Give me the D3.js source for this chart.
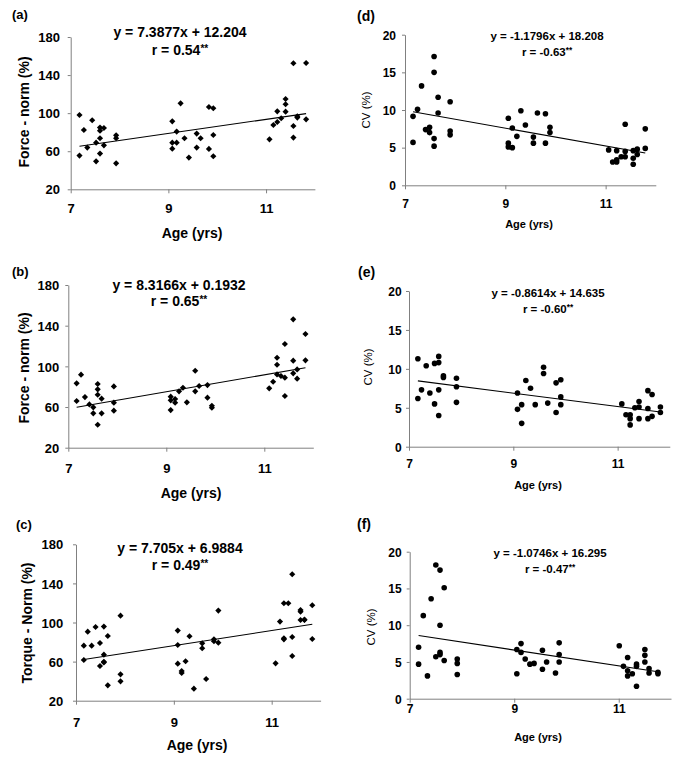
<!DOCTYPE html>
<html><head><meta charset="utf-8">
<script src="https://cdn.jsdelivr.net/npm/d3@7"></script>
<style>
body{margin:0;background:#fff;}
svg{display:block;font-family:"Liberation Sans",Arial,sans-serif;}
</style></head>
<body><svg id="chart" width="677" height="763"></svg>
<script>
// ---------- data ----------
const panelLabels = ["(a)","(b)","(c)","(d)","(e)","(f)"];
const yTitles = ["Force - norm (%)","Force - norm (%)","Torque - Norm (%)","CV (%)","CV (%)","CV (%)"];
const xTitle = "Age (yrs)";
const xTicks = [7, 9, 11];
const yTicksForce = [20, 60, 100, 140, 180];
const yTicksCV = [0, 5, 10, 15, 20];
const equations = ["y = 7.3877x + 12.204","y = 8.3166x + 0.1932","y = 7.705x + 6.9884",
                   "y = -1.1796x + 18.208","y = -0.8614x + 14.635","y = -1.0746x + 16.295"];
const rLabels = ["r = 0.54","r = 0.65","r = 0.49","r = -0.63","r = -0.60","r = -0.47"];
const slopes = [7.3877, 8.3166, 7.705, -1.1796, -0.8614, -1.0746];
const intercepts = [12.204, 0.1932, 6.9884, 18.208, 14.635, 16.295];

const agesA = [7.18,7.27,7.18,7.34,7.44,7.52,7.52,7.60,7.60,7.60,7.60,7.68,7.68,7.93,7.93,7.93,9.08,9.08,9.08,9.17,9.17,9.25,9.33,9.42,9.58,9.58,9.66,9.83,9.83,9.92,9.92,9.92,11.07,11.15,11.23,11.23,11.31,11.40,11.40,11.40,11.56,11.56,11.56,11.64,11.64,11.82,11.82];
const forceA = [98.1,82.3,55.4,63.8,92.5,69,49.4,84.8,81.6,73.6,57.5,84.4,66.2,76.7,73.6,47.3,91.4,69,62.7,80.6,69,110.3,73.6,53.3,78.5,63.8,73.6,106.5,62.4,105.1,77.1,54.7,72.5,87.6,101.9,90.7,94.6,114.9,109.3,101.6,152.4,86.5,74.3,96.7,95.3,152.7,93.5];

const agesB = [7.17,7.17,7.26,7.34,7.43,7.51,7.51,7.60,7.60,7.60,7.60,7.68,7.68,7.93,7.93,7.93,9.09,9.09,9.09,9.18,9.18,9.26,9.34,9.42,9.59,9.59,9.67,9.84,9.84,9.93,9.93,11.10,11.18,11.26,11.26,11.26,11.34,11.42,11.42,11.42,11.59,11.59,11.59,11.67,11.67,11.84,11.84];
const forceB = [83.3,65.9,91.8,69.8,62.6,59.7,53.8,82.6,77.4,72.1,42.6,68.2,53.8,80.3,64.3,56.4,70.2,66.6,57,67.9,64.3,75.4,79,64.6,95.7,75.4,80.7,81.6,69.2,61.3,59.3,78.4,84.9,108.5,101.6,92.1,90.5,122,88.9,70.8,146.2,105.6,93.1,97,87.9,131.8,105.9];

const agesC = [7.16,7.16,7.24,7.32,7.40,7.49,7.49,7.57,7.57,7.57,7.57,7.65,7.65,7.91,7.91,7.91,9.08,9.08,9.08,9.16,9.16,9.24,9.32,9.41,9.58,9.58,9.66,9.82,9.82,9.91,9.91,11.08,11.17,11.25,11.25,11.25,11.34,11.42,11.42,11.42,11.59,11.59,11.59,11.67,11.67,11.83,11.83];
const torqueC = [76.3,61.6,90.6,76.3,95.4,79,55.5,95.8,67.1,59.9,59.2,86.2,35.7,107,47,39.8,91.7,77,57.9,50.4,48.3,60.3,85.9,32.3,78.7,73.6,42.2,82.8,80.8,112.2,79.4,58.2,100.9,119.7,83.8,82.8,119.7,149.4,85.2,65.7,112.8,111.1,102.6,102.6,103,117.6,83.1];

const agesD = [7.16,7.16,7.25,7.33,7.41,7.49,7.49,7.58,7.58,7.58,7.58,7.66,7.66,7.90,7.90,7.90,9.06,9.06,9.06,9.14,9.14,9.23,9.31,9.40,9.56,9.56,9.64,9.80,9.80,9.89,9.89,11.06,11.14,11.22,11.22,11.22,11.31,11.39,11.39,11.39,11.55,11.55,11.55,11.63,11.63,11.79,11.79];
const cvD = [9.16,5.7,10.1,13.2,7.4,7.7,7.0,17.1,15.0,6.2,5.2,11.7,9.6,11.1,7.2,6.7,8.9,5.6,5.1,7.6,5.0,6.5,9.9,8.0,6.4,5.6,9.6,9.5,5.6,7.7,7.0,4.7,3.1,4.6,3.4,3.1,3.8,8.1,4.5,3.8,4.6,3.6,2.8,4.8,4.1,7.5,4.9];

const agesE = [7.17,7.17,7.24,7.33,7.40,7.49,7.49,7.57,7.57,7.57,7.57,7.66,7.66,7.91,7.91,7.91,9.08,9.08,9.16,9.16,9.24,9.33,9.42,9.58,9.58,9.66,9.82,9.82,9.91,9.91,9.91,11.08,11.16,11.24,11.24,11.24,11.33,11.41,11.41,11.41,11.58,11.58,11.58,11.66,11.66,11.82,11.82];
const cvE = [11.3,6.2,7.3,10.4,6.9,10.7,5.5,11.6,10.8,7.3,4.0,9.1,8.9,8.8,7.7,5.7,6.9,4.8,5.4,3.0,8.5,7.5,5.4,10.2,9.4,5.6,8.2,4.4,8.6,6.4,5.4,5.5,4.1,4.1,3.6,2.8,5.0,5.8,5.1,3.6,7.2,4.9,3.6,6.7,3.9,5.1,4.4];

const agesF = [7.17,7.17,7.26,7.34,7.41,7.50,7.50,7.58,7.58,7.58,7.58,7.66,7.66,7.91,7.91,7.91,9.05,9.05,9.13,9.13,9.21,9.30,9.38,9.54,9.54,9.62,9.79,9.86,9.86,9.86,11.01,11.09,11.17,11.17,11.17,11.26,11.34,11.34,11.34,11.50,11.50,11.50,11.58,11.58,11.75,11.75];
const cvF = [7.0,4.7,11.3,3.1,13.6,18.2,5.7,17.5,10.0,6.3,6.0,15.1,5.2,5.4,4.8,3.3,6.7,3.4,7.5,6.3,5.4,4.7,4.8,6.6,4.0,5.0,3.5,7.6,6.0,5.0,7.2,4.4,5.6,3.8,3.1,3.4,4.7,4.4,1.7,6.7,5.9,5.0,4.1,3.5,3.6,3.4];

const agesList = [agesA, agesB, agesC, agesD, agesE, agesF];
const valuesList = [forceA, forceB, torqueC, cvD, cvE, cvF];

// ---------- layout (pixels) ----------
const layout = [
 {x0:70.7,x1:314.9,y0:189.3,y1:37,   lab:[12,19],   eqX:180,eqY:37,  rY:55,   ytX:29, ytY:112, gap:10.7, xlY:213, agX:192, agY:238},
 {x0:68.3,x1:313.3,y0:447.7,y1:285,  lab:[12,276],  eqX:179,eqY:290, rY:306,  ytX:29, ytY:368, gap:9,    xlY:473, agX:191, agY:498},
 {x0:76,  x1:320.6,y0:700.7,y1:544.3,lab:[16,529],  eqX:180,eqY:553, rY:570,  ytX:32, ytY:623, gap:12.7, xlY:727, agX:197, agY:750},
 {x0:405, x1:655.8,y0:185.3,y1:34.7, lab:[357,20.5],eqX:547,eqY:40,  rY:55.7, ytX:370,ytY:110, gap:9,    xlY:208, agX:529, agY:228},
 {x0:409, x1:669.8,y0:446.7,y1:291,  lab:[358,277], eqX:548,eqY:297, rY:313,  ytX:372,ytY:367, gap:7.3,  xlY:468, agX:538, agY:489},
 {x0:409.7,x1:671, y0:698.7,y1:551.7,lab:[357,529], eqX:550,eqY:556.7,rY:573, ytX:375,ytY:627, gap:8,    xlY:713, agX:538, agY:741}
];

const svg = d3.select("#chart");
const axisColor = "#808080";

layout.forEach((L, i) => {
  const left = i < 3;
  const yTicks = left ? yTicksForce : yTicksCV;
  const x = d3.scaleLinear().domain([7, 12]).range([L.x0, L.x1]);
  const y = d3.scaleLinear().domain([yTicks[0], yTicks[yTicks.length-1]]).range([L.y0, L.y1]);
  const g = svg.append("g");
  const tickFont = left ? 13 : 12;

  // x axis
  const gx = g.append("g").attr("transform", `translate(0,${L.y0})`)
    .call(d3.axisBottom(x).tickValues(xTicks).tickSize(4).tickSizeOuter(0).tickFormat(d3.format("d")));
  gx.select(".domain").attr("stroke", axisColor);
  gx.selectAll(".tick line").attr("stroke", axisColor);
  gx.selectAll(".tick text").attr("y", L.xlY - L.y0).attr("dy", 0)
    .attr("font-size", tickFont).attr("font-weight", "bold").attr("fill", "#000")
    .attr("font-family", "Liberation Sans, Arial, sans-serif");

  // y axis
  const gy = g.append("g").attr("transform", `translate(${L.x0},0)`)
    .call(d3.axisLeft(y).tickValues(yTicks).tickSize(3).tickSizeOuter(0).tickFormat(d3.format("d")));
  gy.select(".domain").attr("stroke", axisColor);
  gy.selectAll(".tick line").attr("stroke", axisColor);
  gy.selectAll(".tick text").attr("x", -L.gap).attr("dy", "0.36em")
    .attr("font-size", tickFont).attr("font-weight", "bold").attr("fill", "#000")
    .attr("font-family", "Liberation Sans, Arial, sans-serif");

  // regression line over data range
  const ages = agesList[i], vals = valuesList[i];
  const ext = d3.extent(ages);
  g.append("line")
    .attr("x1", x(ext[0])).attr("y1", y(slopes[i]*ext[0] + intercepts[i]))
    .attr("x2", x(ext[1])).attr("y2", y(slopes[i]*ext[1] + intercepts[i]))
    .attr("stroke", "#000").attr("stroke-width", 1.1);

  // points
  const pts = ages.map((a, k) => [a, vals[k]]);
  if (left) {
    const sym = d3.symbol().type(d3.symbolDiamond2).size(24);
    g.selectAll("path.pt").data(pts).join("path").attr("class","pt")
      .attr("d", sym).attr("transform", d => `translate(${x(d[0])},${y(d[1])})`)
      .attr("fill", "#000");
  } else {
    g.selectAll("circle.pt").data(pts).join("circle").attr("class","pt")
      .attr("cx", d => x(d[0])).attr("cy", d => y(d[1])).attr("r", 2.8)
      .attr("fill", "#000");
  }

  // panel label
  g.append("text").attr("x", L.lab[0]).attr("y", L.lab[1])
    .attr("font-size", left ? 13 : 14).attr("font-weight", "bold").text(panelLabels[i]);

  // equation and r
  const eqSize = left ? 14 : 11.5;
  g.append("text").attr("x", L.eqX).attr("y", L.eqY).attr("text-anchor", "middle")
    .attr("font-size", eqSize).attr("font-weight", "bold").text(equations[i]);
  const rt = g.append("text").attr("x", L.eqX).attr("y", L.rY).attr("text-anchor", "middle")
    .attr("font-size", eqSize).attr("font-weight", "bold");
  rt.append("tspan").text(rLabels[i]);
  rt.append("tspan").attr("font-size", eqSize*0.72).attr("dy", -eqSize*0.25).text("**");

  // y title
  g.append("text").attr("transform", `translate(${L.ytX},${L.ytY}) rotate(-90)`)
    .attr("text-anchor", "middle")
    .attr("font-size", left ? 14 : 11.5).attr("font-weight", left ? "bold" : "normal")
    .text(yTitles[i]);

  // x title
  g.append("text").attr("x", L.agX).attr("y", L.agY).attr("text-anchor", "middle")
    .attr("font-size", left ? 14 : 11).attr("font-weight", "bold").text(xTitle);
});
</script></body></html>
